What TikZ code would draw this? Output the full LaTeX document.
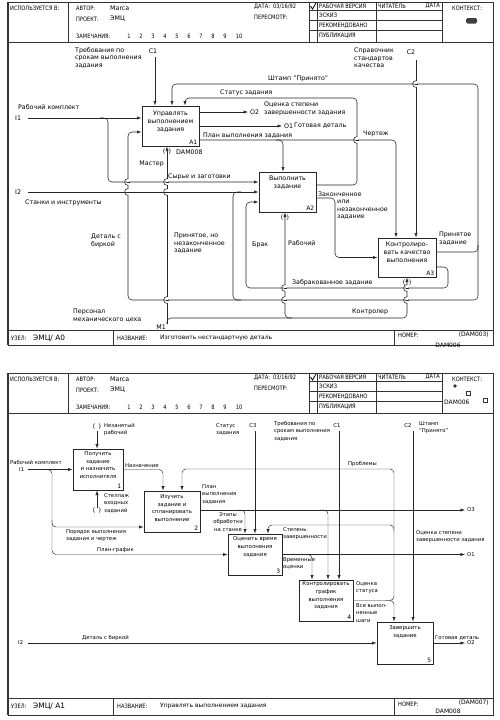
\documentclass[tikz,border=0pt]{standalone}
\usepackage{fontspec}
\setmainfont{DejaVu Sans}
\newfontfamily\hdrfont{DejaVu Sans}[FakeStretch=0.85]
\usetikzlibrary{arrows.meta,calc}
\newcommand{\hfnt}{\hdrfont\fontsize{6}{7}\selectfont}
\newcommand{\nfnt}{\fontsize{6.3}{7}\selectfont}
\newcommand{\lfnt}{\fontsize{6.3}{7.5}\selectfont}
\newcommand{\btfnt}{\fontsize{6.3}{8.2}\selectfont}
\newcommand{\sfnt}{\fontsize{5.3}{7.6}\selectfont}
\newcommand{\sbfnt}{\fontsize{5.4}{7.8}\selectfont}
\newcommand{\bfnt}{\fontsize{7.4}{8}\selectfont}
\newcommand{\tfnt}{\fontsize{6}{7}\selectfont}
\tikzset{
  frm/.style={draw=black!80, line width=0.6pt},
  box/.style={draw=black!85, line width=1pt, rectangle, inner sep=0pt},
  arr/.style={draw=black!85, line width=0.55pt, rounded corners=4pt, -{Latex[length=4.5pt,width=3.2pt]}},
  ln/.style={draw=black!85, line width=0.55pt, rounded corners=4pt},
  sarr/.style={arr, line width=0.45pt},
  lab/.style={inner sep=0pt, font=\lfnt, align=left},
  slab/.style={inner sep=0pt, font=\sfnt, align=left},
  hdr/.style={inner sep=0pt, font=\hfnt, anchor=west},
  btxt/.style={inner sep=0pt, font=\btfnt, align=center},
  sbtxt/.style={inner sep=0pt, font=\sbfnt, align=center},
  bnum/.style={inner sep=0pt, font=\tfnt, anchor=south east},
  tun/.style={inner sep=0pt, font=\lfnt}
}
\newcommand{\hop}[2]{%
  \fill[white] (#1-1,#2-3.2) rectangle (#1+1,#2+3.2);
  \draw[black!85, line width=0.55pt] (#1-1.5,#2) -- (#1+1.5,#2);
  \draw[black!85, line width=0.55pt] (#1,#2-3.4) .. controls (#1-4.5,#2-3.4) and (#1-4.5,#2+3.4) .. (#1,#2+3.4);}
\newcommand{\idefform}[3]{%
  \draw[frm] (8,2) rectangle (493,#3);
  \draw[frm, line width=1.2pt] (8,2) -- (8,#3);
  \draw[frm] (8,42) -- (493,42);
  \draw[frm] (68,2) -- (68,42);
  \draw[frm] (309,2) -- (309,42);
  \draw[frm] (317,2) -- (317,42);
  \draw[frm] (376,2) -- (376,42);
  \draw[frm] (442,2) -- (442,42);
  \draw[frm] (309,10) -- (442,10);
  \draw[frm] (309,20) -- (442,20);
  \draw[frm] (309,30) -- (442,30);
  \draw[frm] (8,#2) -- (493,#2);
  \draw[frm] (113,#2) -- (113,#3);
  \draw[frm] (394,#2) -- (394,#3);
  \draw[line width=0.8pt] (310.5,6) -- (312.5,9) -- (316,3);
  \node[hdr] (#1use) at (10,8) {ИСПОЛЬЗУЕТСЯ В:};
  \node[hdr] (#1aut) at (76,8) {АВТОР:};
  \node[anchor=west, inner sep=0pt, font=\nfnt] (#1autv) at (110,8) {Marca};
  \node[hdr] (#1prj) at (76,19) {ПРОЕКТ:};
  \node[anchor=west, inner sep=0pt, font=\nfnt] (#1prjv) at (110,19) {ЭМЦ};
  \node[hdr] (#1rem) at (76,36) {ЗАМЕЧАНИЯ:};
  \foreach \n/\xx in {1/129,2/141,3/153,4/165,5/177,6/189,7/201,8/213,9/225,10/239}
    \node[hdr, anchor=center] (#1r\n) at (\xx,36) {\n};
  \node[hdr] (#1dat) at (254,7) {ДАТА:\ \ 03/16/92};
  \node[hdr] (#1rev) at (254,17) {ПЕРЕСМОТР:};
  \node[hdr] (#1s1) at (319,6) {РАБОЧАЯ ВЕРСИЯ};
  \node[hdr] (#1s2) at (319,15.5) {ЭСКИЗ};
  \node[hdr] (#1s3) at (319,25.5) {РЕКОМЕНДОВАНО};
  \node[hdr] (#1s4) at (319,36) {ПУБЛИКАЦИЯ};
  \node[hdr] (#1rd) at (378,6) {ЧИТАТЕЛЬ};
  \node[hdr, anchor=east] (#1rdd) at (440,6) {ДАТА};
  \node[hdr] (#1ctx) at (452,8) {КОНТЕКСТ:};
}
\begin{document}
\begin{tikzpicture}[x=1pt, y=-1pt]
\fill[white] (0,0) rectangle (500,720);
\useasboundingbox (0,0) rectangle (500,720);

% ================= TOP SHEET =================
\idefform{t}{330}{345}
\fill[black!75, rounded corners=1.5pt] (466,18) rectangle (477,23.5);
\node[hdr] (tfuz) at (11,338) {УЗЕЛ:};
\node[anchor=west, inner sep=0pt, font=\bfnt] (tfuzv) at (33,338) {ЭМЦ/ А0};
\node[hdr] (tfna) at (117,338) {НАЗВАНИЕ:};
\node[anchor=west, inner sep=0pt, font=\tfnt] (tfnav) at (160,338) {Изготовить нестандартную деталь};
\node[hdr] (tfno) at (398,335) {НОМЕР:};
\node[anchor=east, inner sep=0pt, font=\tfnt] (tfnov) at (489,335) {(DAM003)};
\node[inner sep=0pt, font=\tfnt] (tfnod) at (448,345) {DAM006};

% boxes
\node[box, minimum width=57pt, minimum height=40pt] (A1) at (170.5,126) {};
\node[box, minimum width=57pt, minimum height=40pt] (A2) at (287.5,192) {};
\node[box, minimum width=58pt, minimum height=39pt] (A3) at (407,257.5) {};
\node[btxt] (A1t) at ([yshift=4.5pt]A1.center) {Управлять\\выполнением\\задания};
\node[btxt] (A2t) at ([yshift=9pt]A2.center) {Выполнить\\задание};
\node[btxt] (A3t) at ([yshift=5.5pt]A3.center) {Контролиро-\\вать качество\\выполнения};
\node[bnum] (A1n) at ([xshift=-2pt,yshift=2pt]A1.south east) {A1};
\node[bnum] (A2n) at ([xshift=-2pt,yshift=2pt]A2.south east) {A2};
\node[bnum] (A3n) at ([xshift=-2pt,yshift=2pt]A3.south east) {A3};

% boundary points
\coordinate (c1) at (155,57);
\coordinate (c2) at (416,60);
\coordinate (i1) at (28,118);
\coordinate (i2) at (28,192);
\coordinate (m1) at (167,324);
\coordinate (o2) at (248,112);
\coordinate (o1) at (282,126);

% connectors
\draw[arr] (c1) -- (c1 |- A1.north);
\draw[arr] ([yshift=5.5pt]A3.east) -| (478,84) -| ([xshift=1.5pt]A1.north);
\draw[arr] (478,245) |- (128,300) |- ([yshift=-6pt]A1.west);
\draw[ln] (241,300) -| (233,192) -- (241,192);
\draw[arr] ([yshift=-9.5pt]A3.east) -| (448,288) -| (246,202) -- ([yshift=-10pt]A2.west);
\draw[arr] (i1) -- ([yshift=8pt]A1.west);
\draw[arr] (100,118) -| (108,182) -- ([yshift=10pt]A2.west);
\draw[arr] (i2) -- (A2.west);
\draw[arr] (m1) -- (m1 |- A1.south);
\draw[arr] (167,324) |- (407,318) -- (A3.south);
\draw[arr] (292,318) -| ([xshift=-2.5pt]A2.south);
\draw[arr] (c2) -- (c2 |- A3.north);
\draw[arr] ([yshift=14pt]A1.east) -- (o2);
\draw[arr] (A1.east) -- (o1);
\draw[arr] ([yshift=-14pt]A1.east) -| ([xshift=-11pt]A3.north);
\draw[arr] (276,140) -| ([xshift=-4.5pt]A2.north);
\draw[arr] ([yshift=7pt]A2.east) -| (357,98) -| ([xshift=14.5pt]A1.north);
\draw[arr] ([yshift=-6pt]A2.east) -| (335,257.5) -- (A3.west);

% crossings
\hop{416}{84}
\hop{357}{140}
\hop{128}{182}
\hop{128}{192}
\hop{167}{182}
\hop{167}{192}
\hop{167}{300}
\hop{285}{288}
\hop{285}{300}
\hop{407}{288}
\hop{407}{300}

% tunnels
\node[tun] (tun1) at (167,152) {(\hspace{3.5pt})};
\node[tun] (tun2) at (285,218) {(\hspace{3.5pt})};
\node[tun] (tun3) at (407,283) {(\hspace{3.5pt})};

% labels
\node[lab, anchor=north west] (lc1) at (75,47) {Требования по\\срокам выполнения\\задания};
\node[lab] (lc1n) at (153,51) {C1};
\node[lab, anchor=south west] (lst) at (268,82) {Штамп "Принято"};
\node[lab, anchor=north west] (lc2) at (354,48) {Справочник\\стандартов\\качества};
\node[lab] (lc2n) at (411,52) {C2};
\node[lab, anchor=south west] (lstat) at (220,96) {Статус задания};
\node[lab, anchor=north west] (lo2t) at (264,102) {Оценка степени\\завершенности задания};
\node[lab, anchor=west] (lo2) at (250,112) {O2};
\node[lab, anchor=west] (lo1) at (284,126) {O1};
\node[lab, anchor=west] (lo1t) at (294,126) {Готовая деталь};
\node[lab, anchor=south west] (lplan) at (203,138.5) {План выполнения задания};
\node[lab, anchor=south west] (lcher) at (363,137) {Чертеж};
\node[lab, anchor=west] (li1t) at (18,107) {Рабочий комплект};
\node[lab, anchor=west] (li1) at (15,118) {I1};
\node[lab, anchor=east] (lmas) at (164,164) {Мастер};
\node[lab, anchor=west] (ldam) at (176,152) {DAM008};
\node[lab, anchor=south west] (lsyr) at (168,180.5) {Сырье и заготовки};
\node[lab, anchor=west] (li2) at (15,192) {I2};
\node[lab, anchor=west] (li2t) at (25,203) {Станки и инструменты};
\node[lab, anchor=north west] (ldet) at (91,234) {Деталь с\\биркой};
\node[lab, anchor=north west] (lpn) at (174,233) {Принятое, но\\незаконченное\\задание};
\node[lab, anchor=south west] (lzak) at (318,197) {Законченное};
\node[lab, anchor=north west] (lzak2) at (337,200) {или\\незаконченное\\задание};
\node[lab, anchor=west] (lbr) at (252,245) {Брак};
\node[lab, anchor=west] (lrab) at (288,243) {Рабочий};
\node[lab, anchor=north west] (lprin) at (439,232) {Принятое\\задание};
\node[lab, anchor=south west] (lzab) at (292,286) {Забракованное задание};
\node[lab, anchor=south west] (lkon) at (352,315.5) {Контролер};
\node[lab, anchor=north west] (lper) at (73,309) {Персонал\\механического цеха};
\node[lab, anchor=east] (lm1) at (166,327) {M1};

% ================= BOTTOM SHEET =================
\begin{scope}[shift={(0,371)}]
\idefform{b}{327}{344}
\end{scope}
\fill[black!80] (455,386) circle (1.8pt);
\draw[frm, line width=0.5pt] (466,391) rectangle (470,395);
\draw[frm, line width=0.5pt] (483,398) rectangle (487,402);
\node[anchor=west, inner sep=0pt, font=\tfnt] (bctx) at (444,402) {DAM006};
\node[hdr] (bfuz) at (11,706) {УЗЕЛ:};
\node[anchor=west, inner sep=0pt, font=\bfnt] (bfuzv) at (33,706) {ЭМЦ/ А1};
\node[hdr] (bfna) at (117,706) {НАЗВАНИЕ:};
\node[anchor=west, inner sep=0pt, font=\tfnt] (bfnav) at (160,706) {Управлять выполнением задания};
\node[hdr] (bfno) at (398,704) {НОМЕР:};
\node[anchor=east, inner sep=0pt, font=\tfnt] (bfnov) at (489,703) {(DAM007)};
\node[inner sep=0pt, font=\tfnt] (bfnod) at (448,711.5) {DAM008};

% boxes
\node[box, minimum width=50pt, minimum height=41pt] (B1) at (98,469.5) {};
\node[box, minimum width=56pt, minimum height=41pt] (B2) at (172,511.5) {};
\node[box, minimum width=54pt, minimum height=41pt] (B3) at (255,554.5) {};
\node[box, minimum width=54pt, minimum height=41pt] (B4) at (326,600.5) {};
\node[box, minimum width=56pt, minimum height=42pt] (B5) at (405,643) {};
\node[sbtxt] (B1t) at ([yshift=4.5pt]B1.center) {Получить\\задание\\и назначить\\исполнителя};
\node[sbtxt] (B2t) at ([yshift=3.5pt]B2.center) {Изучить\\задание и\\спланировать\\выполнение};
\node[sbtxt] (B3t) at ([yshift=7.5pt]B3.center) {Оценить время\\выполнения\\задания};
\node[sbtxt] (B4t) at ([yshift=5pt]B4.center) {Контролировать\\график\\выполнения\\задания};
\node[sbtxt] (B5t) at ([yshift=11pt]B5.center) {Завершить\\задание};
\node[bnum] (B1n) at ([xshift=-2pt,yshift=2pt]B1.south east) {1};
\node[bnum] (B2n) at ([xshift=-2pt,yshift=2pt]B2.south east) {2};
\node[bnum] (B3n) at ([xshift=-2pt,yshift=2pt]B3.south east) {3};
\node[bnum] (B4n) at ([xshift=-2pt,yshift=2pt]B4.south east) {4};
\node[bnum] (B5n) at ([xshift=-2pt,yshift=2pt]B5.south east) {5};

% boundary points
\coordinate (t1) at (97,431);
\coordinate (t2) at (97,508);
\coordinate (bi1) at (28,469.5);
\coordinate (bi2) at (28,643);
\coordinate (bc3) at (255,431);
\coordinate (bc1) at (339,431);
\coordinate (bc2) at (413,431);
\coordinate (bo3) at (465,510);
\coordinate (bo1) at (465,554.5);
\coordinate (bo2) at (465,643);

% connectors
\draw[sarr] (t1) -- (t1 |- B1.north);
\draw[sarr] (t2) -- (t2 |- B1.south);
\draw[sarr] (bi1) -- (bi1 -| B1.west);
\draw[sarr] (44,469.5) -| (52,554.5) -- (B3.west);
\draw[sarr] (52,520) |- ([yshift=-15.5pt]B2.west);
\draw[sarr] (B1.east) -| ([xshift=-9pt]B2.north);
\draw[sarr] (B4.east) -| ([xshift=-11pt]B5.north);
\draw[sarr] (385,600.5) -| (394,469) -| ([xshift=10pt]B2.north);
\draw[sarr] (394,532) |- (268,525) -- ([xshift=13pt]B3.north);
\draw[sarr] (bc3) -- (bc3 |- B3.north);
\draw[sarr] ([yshift=1.5pt]B2.east) -- (bo3);
\draw[sarr] (238,510) -| ([xshift=-10pt]B3.north);
\draw[sarr] (320,510) -| ([xshift=2pt]B4.north);
\draw[sarr] (bc1) -- (bc1 |- B4.north);
\draw[sarr] (B3.east) -- (bo1);
\draw[sarr] (305,554.5) -| ([xshift=-14pt]B4.north);
\draw[sarr] (bc2) -- (bc2 |- B5.north);
\draw[sarr] (bi2) -- (B5.west);
\draw[sarr] (B5.east) -- (bo2);

% tunnels
\node[tun] (btun1) at (97,427) {(\hspace{3.5pt})};
\node[tun] (btun2) at (97,511) {(\hspace{3.5pt})};

% labels
\node[slab, anchor=north west] (bl1) at (104,423) {Незанятый\\рабочий};
\node[slab, anchor=north west] (bl2) at (104,493) {Стеллаж\\входных\\заданий};
\node[slab, anchor=west] (bl3) at (10,462) {Рабочий комплект};
\node[slab, anchor=west] (bl4) at (19,469.5) {I1};
\node[slab, anchor=south west] (bl5) at (125,467.5) {Назначение};
\node[slab, anchor=north west] (bl6) at (216,423) {Статус\\задания};
\node[slab] (bl7) at (253,426) {C3};
\node[slab, anchor=north west] (bl8) at (274,421) {Требования по\\срокам выполнения\\задания};
\node[slab] (bl9) at (337,426) {C1};
\node[slab] (bl10) at (408,426) {C2};
\node[slab, anchor=north west] (bl11) at (419,421) {Штамп\\"Принято"};
\node[slab, anchor=south west] (bl12) at (348,467) {Проблемы};
\node[slab, anchor=north west] (bl13) at (202,484) {План\\выполнения\\задания};
\node[slab, align=center] (bl14) at (228,522) {Этапы\\обработки\\на станке};
\node[slab, anchor=north west] (bl15) at (283,527) {Степень\\завершенности};
\node[slab, anchor=north west] (bl16) at (416,530) {Оценка степени\\завершенности задания};
\node[slab, anchor=west] (bl17) at (467,510) {O3};
\node[slab, anchor=west] (bl18) at (467,554.5) {O1};
\node[slab, anchor=north west] (bl19) at (66,529) {Порядок выполнения\\задания и чертеж};
\node[slab, anchor=south west] (bl20) at (97,552.5) {План-график};
\node[slab, anchor=north west] (bl21) at (283,557) {Временные\\оценки};
\node[slab, anchor=north west] (bl22) at (356,581) {Оценка\\статуса};
\node[slab, anchor=north west] (bl23) at (356,603) {Все выпол-\\ненные\\шаги};
\node[slab, anchor=south west] (bl24) at (82,641) {Деталь с биркой};
\node[slab, anchor=west] (bl25) at (18,643) {I2};
\node[slab, anchor=south west] (bl26) at (435,640.5) {Готовая деталь};
\node[slab, anchor=west] (bl27) at (467,643) {O2};
\end{tikzpicture}
\end{document}
